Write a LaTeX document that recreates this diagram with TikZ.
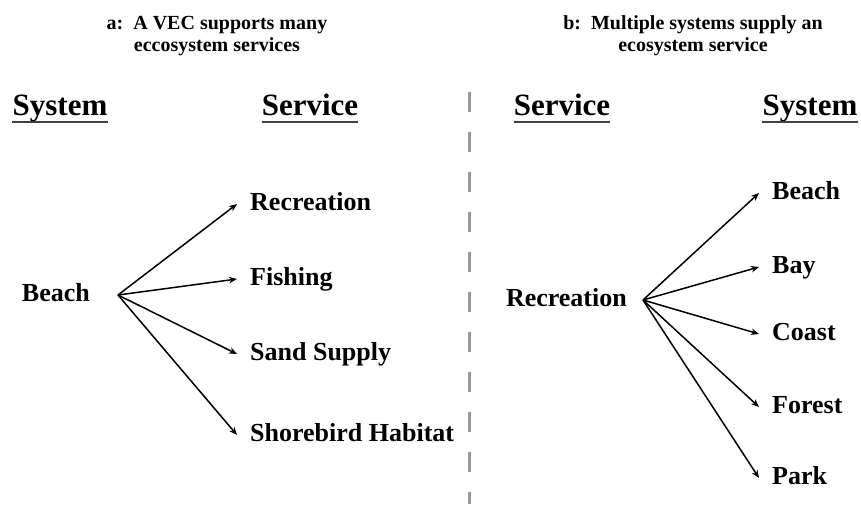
\documentclass[tikz,border=0pt]{standalone}
\usepackage{fontspec}
\setmainfont{Liberation Serif}
\usetikzlibrary{positioning, arrows.meta}
\tikzset{
x=1pt, y=-1pt, % one unit per pixel of the layout, y pointing down
>={Stealth[length=8pt, width=6.5pt]}, % small filled arrow heads
every edge/.style={draw, ->, line width=1.5pt}, % every fan line is a directed edge
title/.style={font=\fontsize{20}{22}\selectfont\bfseries, align=center},
header/.style={font=\fontsize{31}{36}\selectfont\bfseries, anchor=base, inner sep=0pt, text depth=7pt},
underline/.style={draw=black!75, line width=2pt},
item/.style={font=\fontsize{26}{30}\selectfont\bfseries, anchor=west, inner xsep=13pt, inner ysep=0pt, text height=17pt, text depth=5pt},
hub/.style={font=\fontsize{26}{30}\selectfont\bfseries, anchor=east, inner ysep=0pt, text height=17pt, text depth=5pt},
divider/.style={draw=black!40, line width=3pt, dash pattern=on 20pt off 20pt},
}

\begin{document}
\begin{tikzpicture}
                \useasboundingbox (0,0) rectangle (861,504);
                % titles
                \node[title] (titleA) at (217,36) {a:\enspace A VEC supports many\\eccosystem services};
                \node[title] (titleB) at (693,36) {b:\enspace Multiple systems supply an\\ecosystem service};
                % column headers
                \node[header] (sysA) at (60,115) {System};
                \node[header] (servA) at (310,115) {Service};
                \node[header] (servB) at (562,115) {Service};
                \node[header] (sysB) at (810,115) {System};
                \foreach \h in {sysA, servA, servB, sysB}
                    \draw[underline] (\h.south west) -- (\h.south east);
                % divider
                \coordinate (divtop) at (469,92);
                \coordinate (divbot) at (469,504);
                \draw[divider] (divtop) -- (divbot);
                % left: one system, many services
                \node[hub, inner xsep=28pt] (beachA) at (118,295) {Beach};
                \node[item] (recA) at (237,204) {Recreation};
                \node[item] (fishA) at (237,279) {Fishing};
                \node[item] (sandA) at (237,354) {Sand Supply};
                \node[item] (shoreA) at (237,435) {Shorebird Habitat};
                % right: one service, many systems
                \node[hub, inner xsep=16pt] (recB) at (643,300) {Recreation};
                \node[item] (beachB) at (759,193) {Beach};
                \node[item] (bayB) at (759,267) {Bay};
                \node[item] (coastB) at (759,334) {Coast};
                \node[item] (forestB) at (759,407) {Forest};
                \node[item] (parkB) at (759,478) {Park};
                \draw
                    (beachA.east) edge (recA.west)
                    (beachA.east) edge (fishA.west)
                    (beachA.east) edge (sandA.west)
                    (beachA.east) edge (shoreA.west)
                    (recB.east) edge (beachB.west)
                    (recB.east) edge (bayB.west)
                    (recB.east) edge (coastB.west)
                    (recB.east) edge (forestB.west)
                    (recB.east) edge (parkB.west)
                    ;
\end{tikzpicture}
\end{document}
